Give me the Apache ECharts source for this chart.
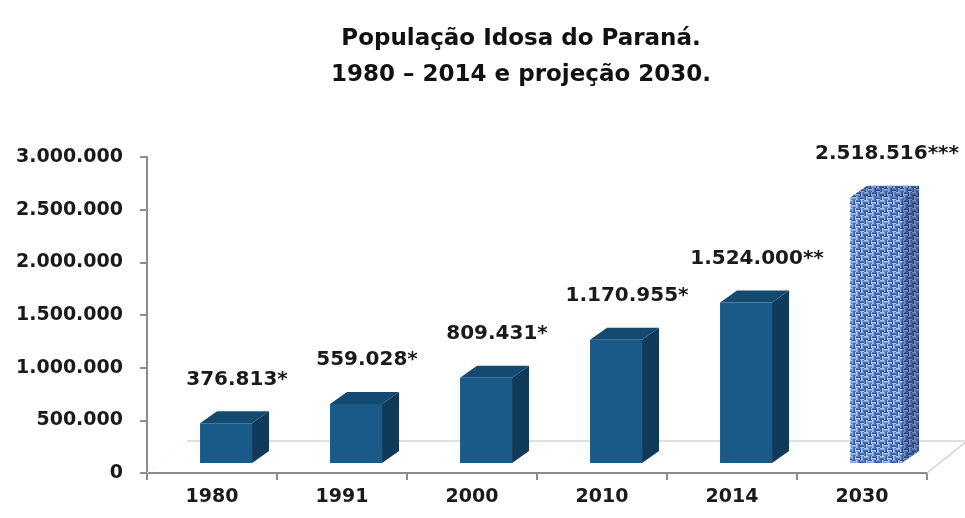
<!DOCTYPE html>
<html>
<head>
<meta charset="utf-8">
<script src="https://cdn.jsdelivr.net/npm/echarts@6/dist/echarts.min.js"></script>
<style>
  html, body { margin: 0; padding: 0; background: #fff; }
  #main { width: 965px; height: 518px; }
</style>
</head>
<body>
<div id="main"></div>
<script>
// dados
const years = ["1980", "1991", "2000", "2010", "2014", "2030"]
const values = [376813, 559028, 809431, 1170955, 1524000, 2518516]
const marks = ["*", "*", "*", "*", "**", "***"]
const yMin = 0
const yMax = 3000000
const yStep = 500000

const FONT = "DejaVu Sans"

function fmt(n){
    return String(n).replace(/\B(?=(\d{3})+(?!\d))/g, ".")
}

// textura da barra de projeção (trama de cesto azul)
function weave(){
    let c = document.createElement("canvas")
    c.width = 16
    c.height = 16
    let ctx = c.getContext("2d")
    let shades = ["#a9c5ef", "#7ea2dc", "#5679ba", "#34579a"]
    for (let by = 0; by < 4; by++){
        for (let bx = 0; bx < 4; bx++){
            let horiz = (bx + by) % 2 === 0
            for (let k = 0; k < 4; k++){
                ctx.fillStyle = shades[(k + bx + by * 2) % 4]
                if (horiz) ctx.fillRect(bx * 4, by * 4 + k, 4, 1)
                else ctx.fillRect(bx * 4 + k, by * 4, 1, 4)
            }
        }
    }
    return c
}
const tex = weave()

function renderBar(params, api){
    let idx = api.value(0)
    let val = api.value(1)
    let base = api.coord([idx, 0])
    let top = api.coord([idx, val])
    let band = api.size([1, 0])[0]
    let w = band * 0.4
    let ox = band * 0.108, oy = -10
    let dx = 17, dy = -12
    let x0 = base[0] - w / 2 + ox
    let x1 = x0 + w
    let yb = base[1] + oy
    let yt = top[1] + oy
    let proj = idx === years.length - 1
    let frontFill = proj ? { image: tex, repeat: "repeat" } : "#195a88"
    let topFill = proj ? { image: tex, repeat: "repeat" } : "#144a70"
    let sideFill = proj ? { image: tex, repeat: "repeat" } : "#0f3a59"
    let sidePts = [[x1, yt], [x1 + dx, yt + dy], [x1 + dx, yb + dy], [x1, yb]]
    let topPts = [[x0, yt], [x1, yt], [x1 + dx, yt + dy], [x0 + dx, yt + dy]]
    let children = [
        { type: "polygon", shape: { points: sidePts }, style: { fill: sideFill } },
        { type: "polygon", shape: { points: topPts }, style: { fill: topFill } },
        { type: "rect", shape: { x: x0, y: yt, width: w, height: yb - yt }, style: { fill: frontFill } },
    ]
    if (proj){
        children.push(
            { type: "polygon", shape: { points: sidePts }, style: { fill: "rgba(15,35,80,0.35)" } },
            { type: "polygon", shape: { points: topPts }, style: { fill: "rgba(20,40,90,0.2)" } }
        )
    }
    children.push({
        type: "text",
        style: {
            x: (x0 + x1) / 2 + 11, y: yt - 44,
            text: fmt(values[idx]) + marks[idx],
            align: "center", verticalAlign: "middle",
            fill: "#1a1a1a", font: "bold 20px '" + FONT + "'"
        }
    })
    return { type: "group", children: children }
}

function renderFloor(params, api){
    let cs = params.coordSys
    let x = cs.x, y = cs.y + cs.height, w = cs.width
    let fx = 40, fy = -32
    return {
        type: "group",
        children: [
            { type: "line", shape: { x1: x + fx, y1: y + fy, x2: x + w + fx, y2: y + fy },
              style: { stroke: "#d6d6d6", lineWidth: 1.5 } },
            { type: "line", shape: { x1: x + w, y1: y, x2: x + w + fx, y2: y + fy },
              style: { stroke: "#cfcfcf", lineWidth: 1.5 } },
            { type: "line", shape: { x1: x, y1: y, x2: x + fx, y2: y + fy },
              style: { stroke: "#eeeeee", lineWidth: 1, lineDash: [2, 6] } },
        ]
    }
}

let myChart = echarts.init(document.getElementById("main"))
let option = {
    backgroundColor: "#fff",
    animation: false,
    title: {
        text: "População Idosa do Paraná.\n1980 – 2014 e projeção 2030.",
        left: 516,
        top: 16,
        textAlign: "center",
        textStyle: {
            fontFamily: FONT,
            fontWeight: "bold",
            fontSize: 23,
            lineHeight: 36,
            color: "#111"
        }
    },
    grid: {
        left: 147,
        right: 38,
        top: 157,
        bottom: 45,
        containLabel: false
    },
    xAxis: {
        type: "category",
        data: years,
        axisLine: { lineStyle: { color: "#8c8c8c", width: 2 } },
        axisTick: { show: true, length: 7, lineStyle: { color: "#8c8c8c", width: 2 } },
        axisLabel: {
            margin: 15,
            fontFamily: FONT,
            fontWeight: "bold",
            fontSize: 19,
            color: "#1a1a1a"
        },
        splitLine: { show: false }
    },
    yAxis: {
        type: "value",
        min: yMin,
        max: yMax,
        interval: yStep,
        axisLine: { show: true, lineStyle: { color: "#8c8c8c", width: 2 } },
        axisTick: { show: true, length: 7, lineStyle: { color: "#8c8c8c", width: 2 } },
        axisLabel: {
            margin: 24,
            fontFamily: FONT,
            fontWeight: "bold",
            fontSize: 19,
            color: "#1a1a1a",
            formatter: v => fmt(v)
        },
        splitLine: { show: false }
    },
    series: [
        {
            type: "custom",
            silent: true,
            z: 1,
            renderItem: renderFloor,
            data: [[0, 0]]
        },
        {
            type: "custom",
            z: 3,
            renderItem: renderBar,
            encode: { x: 0, y: 1 },
            data: values.map((v, i) => [i, v])
        }
    ]
}
myChart.setOption(option)
</script>
</body>
</html>
